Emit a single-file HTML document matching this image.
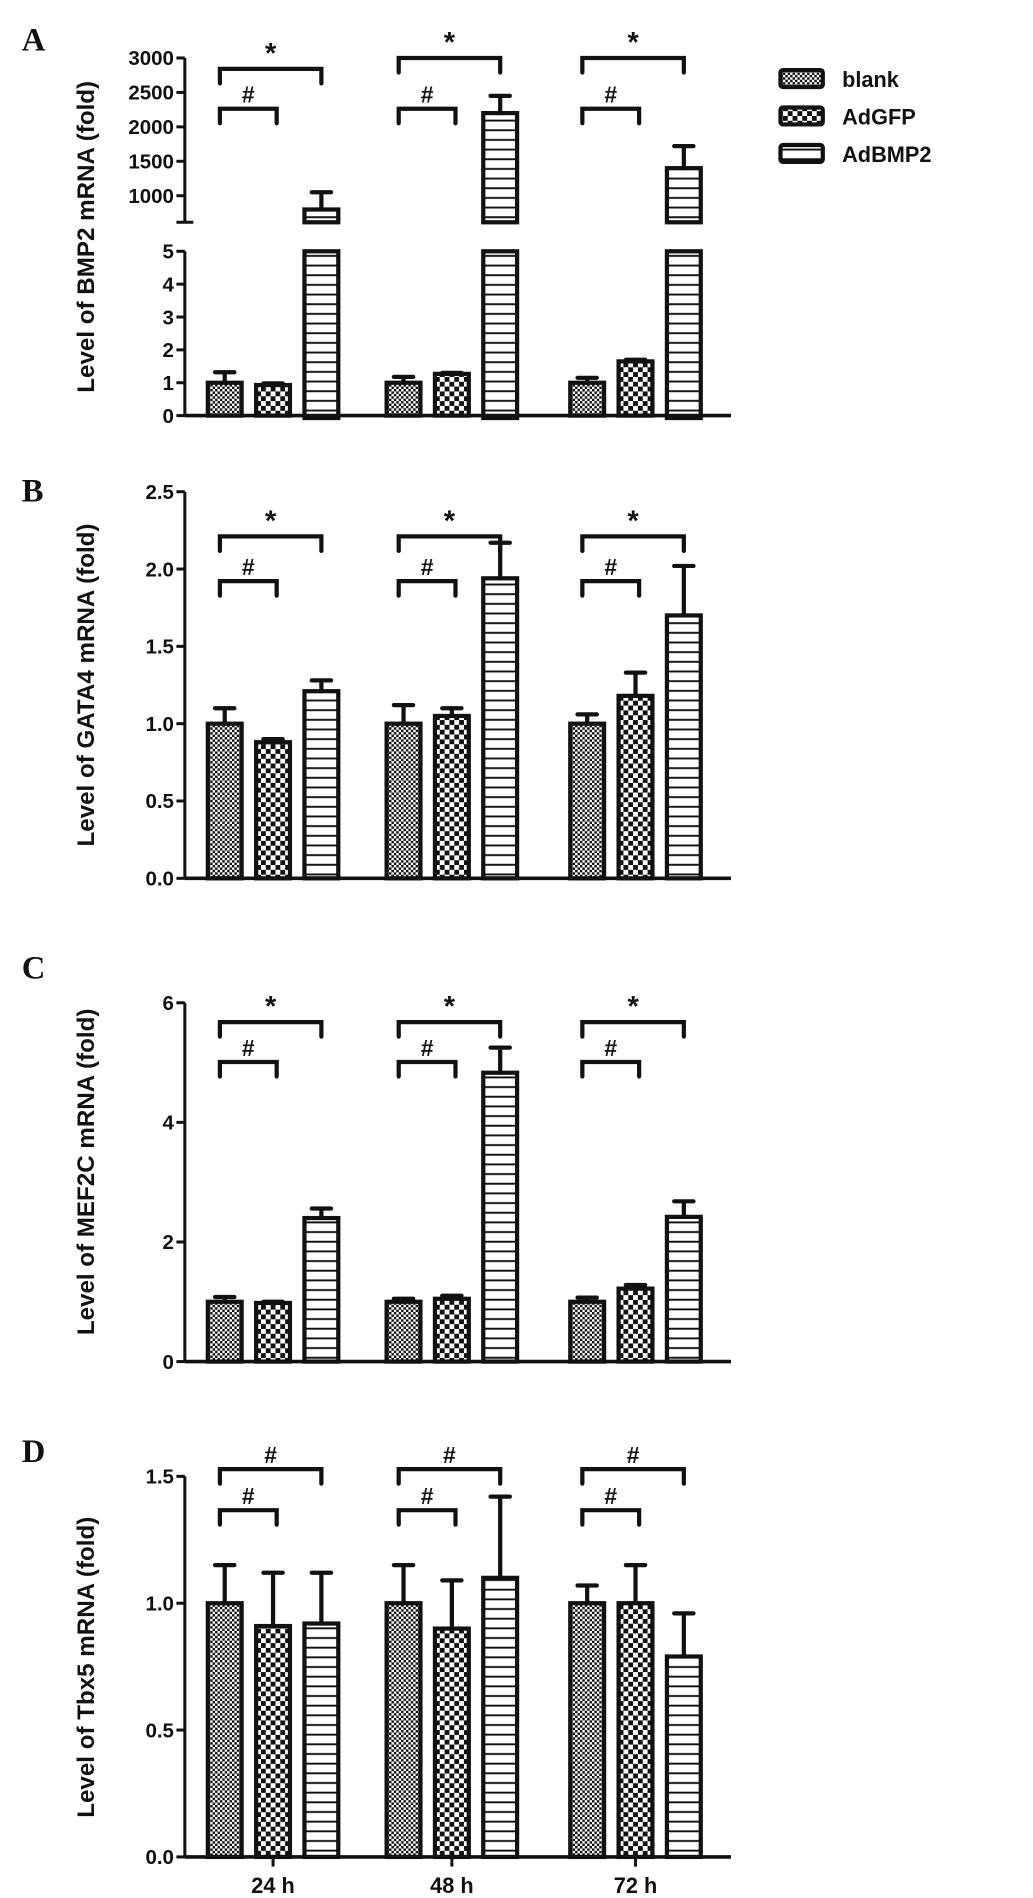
<!DOCTYPE html>
<html><head><meta charset="utf-8"><style>
html,body{margin:0;padding:0;background:#fff;}
svg{display:block;}
text{font-family:"Liberation Sans",sans-serif;font-weight:bold;fill:#111;}
.pl{font-family:"Liberation Serif",serif;font-size:27px;}
.tk{font-size:17px;}
.yt{font-size:20px;}
</style></head><body>
<svg id="chart" width="1033" height="1898" viewBox="0 0 855 1571" preserveAspectRatio="none" xmlns="http://www.w3.org/2000/svg">
<defs>
<pattern id="pDots" patternUnits="userSpaceOnUse" width="4" height="4"><rect width="4" height="4" fill="#fff"/><rect width="2" height="2" fill="#111"/><rect x="2" y="2" width="2" height="2" fill="#111"/></pattern>
<pattern id="pCheck" patternUnits="userSpaceOnUse" width="8" height="8"><rect width="8" height="8" fill="#fff"/><rect width="4" height="4" fill="#111"/><rect x="4" y="4" width="4" height="4" fill="#111"/></pattern>
<pattern id="pLines" patternUnits="userSpaceOnUse" width="8" height="8"><rect width="8" height="8" fill="#fff"/><rect y="3" width="8" height="1.6" fill="#111"/></pattern>
</defs>
<g id="root"></g>
</svg>
<script>
// ---- data ----
const groups = ["24 h","48 h","72 h"];
const seriesNames = ["blank","AdGFP","AdBMP2"];
const aMean = [[1.0,0.93,800],[1.0,1.27,2200],[1.0,1.65,1400]];
const aErr  = [[1.32,0.98,1050],[1.18,1.3,2450],[1.15,1.7,1720]];
const bMean = [[1.0,0.88,1.21],[1.0,1.05,1.94],[1.0,1.18,1.70]];
const bErr  = [[1.10,0.90,1.28],[1.12,1.10,2.17],[1.06,1.33,2.02]];
const cMean = [[1.0,0.98,2.40],[1.0,1.05,4.83],[1.0,1.22,2.42]];
const cErr  = [[1.08,1.00,2.56],[1.05,1.10,5.25],[1.07,1.28,2.68]];
const dMean = [[1.0,0.91,0.92],[1.0,0.90,1.10],[1.0,1.0,0.79]];
const dErr  = [[1.15,1.12,1.12],[1.15,1.09,1.42],[1.07,1.15,0.96]];
const aTicksUpper = [1000,1500,2000,2500,3000];
const aTicksLower = [0,1,2,3,4,5];
const bTicks = [0,0.5,1,1.5,2,2.5];
const cTicks = [0,2,4,6];
const dTicks = [0,0.5,1,1.5];
const sigA = ["*","#"], sigB=["*","#"], sigC=["*","#"], sigD=["#","#"];

const NS="http://www.w3.org/2000/svg";
const root=document.getElementById('root');
function mk(tag,attrs,parent){const e=document.createElementNS(NS,tag);for(const k in attrs)e.setAttribute(k,attrs[k]);(parent||root).appendChild(e);return e;}
const fills=["url(#pDots)","url(#pCheck)","url(#pLines)"];
const AX=153, XEND=605, BW=28;
const gx=[172,320,472], sx=[0,40,80];
function barX(g,s){return gx[g]+sx[s];}

function axisY(g,y0,y1){mk('line',{x1:AX,y1:y0,x2:AX,y2:y1,stroke:'#111','stroke-width':2.5},g);}
function tick(g,y,label){mk('line',{x1:AX-7,y1:y,x2:AX,y2:y,stroke:'#111','stroke-width':2.5},g);
 const t=mk('text',{x:AX-9,y:y+6,'text-anchor':'end',class:'tk'},g);t.textContent=label;
 
 }
function bar(g,x,ytop,ybot,s){const r=mk('rect',{x:x,y:ytop,width:BW,height:Math.max(0,ybot-ytop),fill:fills[s],stroke:'#111','stroke-width':3.5},g);
 
 }
function err(g,x,ytop,yerr){const c=x+BW/2;
 const e=mk('path',{d:`M${c},${ytop} L${c},${yerr} M${c-8},${yerr} L${c+8},${yerr}`,stroke:'#111','stroke-width':3.5,fill:'none','stroke-linecap':'round'},g);
 
 }
function bracket(g,x1,x2,y,label){const b=mk('path',{d:`M${x1},${y+12} L${x1},${y} L${x2},${y} L${x2},${y+12}`,stroke:'#111','stroke-width':3.5,fill:'none','stroke-linecap':'round'},g);
 
 
 const t=mk('text',{x:(x1+x2)/2,y:y-5,'text-anchor':'middle','font-size':label=='*'?24:19},g);t.textContent=label;
 
 }
function panelLabels(g,letter,ly,title,ty){
 const l=mk('text',{x:18,y:ly,class:'pl'},g);l.textContent=letter;
 
 
 const t=mk('text',{x:0,y:0,class:'yt','text-anchor':'middle',transform:`translate(78,${ty}) rotate(-90)`},g);t.textContent=title;
 
 }
function xAxis(g,y,ticks){const l=mk('line',{x1:AX,y1:y,x2:XEND,y2:y,stroke:'#111','stroke-width':3},g);
 
 
 if(ticks){for(let i=0;i<groups.length;i++){const cx=barX(i,1)+BW/2;mk('line',{x1:cx,y1:y,x2:cx,y2:y+8,stroke:'#111','stroke-width':2.5},g);
  const t=mk('text',{x:cx,y:y+30,'text-anchor':'middle','font-size':18},g);t.textContent=groups[i];
  
  }}}

function panel(name,mean,errs,ticks,fmt,y0,ytop,vmax,sig,bY,letter,ly,title,ty,xt){
 const g=mk('g',{});
 
 
 const ys=v=>y0-(v/vmax)*(y0-ytop);
 axisY(g,ytop,y0);
 ticks.forEach(v=>tick(g,ys(v),v.toFixed(fmt)));
 for(let i=0;i<groups.length;i++)for(let s=0;s<3;s++){const x=barX(i,s);bar(g,x,ys(mean[i][s]),y0,s);err(g,x,ys(mean[i][s]),ys(errs[i][s]));}
 for(let i=0;i<groups.length;i++){bracket(g,barX(i,0)+10,barX(i,2)+14,bY[0],sig[0]);bracket(g,barX(i,0)+10,barX(i,1)+17,bY[1],sig[1]);}
 xAxis(g,y0,xt);
 panelLabels(g,letter,ly,title,ty);
}

(function(){
 const g=mk('g',{});
 
 
 const L0=344,L5=208,U1=162,U3=48,BRK=184;
 const yl=v=>L0-(v/5)*(L0-L5);
 const yu=v=>U1-((v-1000)/2000)*(U1-U3);
 axisY(g,U3,BRK);axisY(g,L5,L0);
 mk('line',{x1:AX-7,y1:BRK,x2:AX+7,y2:BRK,stroke:'#111','stroke-width':2.5},g);
 aTicksUpper.forEach(v=>tick(g,yu(v),String(v)));
 aTicksLower.forEach(v=>tick(g,yl(v),String(v)));
 for(let i=0;i<groups.length;i++)for(let s=0;s<3;s++){const x=barX(i,s),m=aMean[i][s],e=aErr[i][s];
  if(m<=5){bar(g,x,yl(m),L0,s);err(g,x,yl(m),yl(e));}
  else{bar(g,x,L5,L0+2,s);bar(g,x,yu(m),BRK,s);err(g,x,yu(m),yu(e));}}
 const bY=[[57,90],[48,90],[48,90]];
 for(let i=0;i<groups.length;i++){bracket(g,barX(i,0)+10,barX(i,2)+14,bY[i][0],sigA[0]);bracket(g,barX(i,0)+10,barX(i,1)+17,bY[i][1],sigA[1]);}
 xAxis(g,L0,false);
 panelLabels(g,'A',42,'Level of BMP2 mRNA (fold)',196);
})();

panel('panel-b',bMean,bErr,bTicks,1,727,407,2.5,sigB,[444,481],'B',415,'Level of GATA4 mRNA (fold)',567,false);
panel('panel-c',cMean,cErr,cTicks,0,1127,830,6,sigC,[846,879],'C',810,'Level of MEF2C mRNA (fold)',970,false);
panel('panel-d',dMean,dErr,dTicks,1,1537,1222,1.5,sigD,[1216,1250],'D',1210,'Level of Tbx5 mRNA (fold)',1380,true);

(function(){
 const g=mk('g',{});
 
 
 const ly=[58,89,120];
 for(let s=0;s<3;s++){
  const r=mk('rect',{x:646,y:ly[s],width:35,height:14,fill:fills[s],stroke:'#111','stroke-width':3.5,rx:2},g);
  
  
  const t=mk('text',{x:697,y:ly[s]+14,'font-size':18},g);t.textContent=seriesNames[s];
  
  
 }
})();
</script>
</body></html>
